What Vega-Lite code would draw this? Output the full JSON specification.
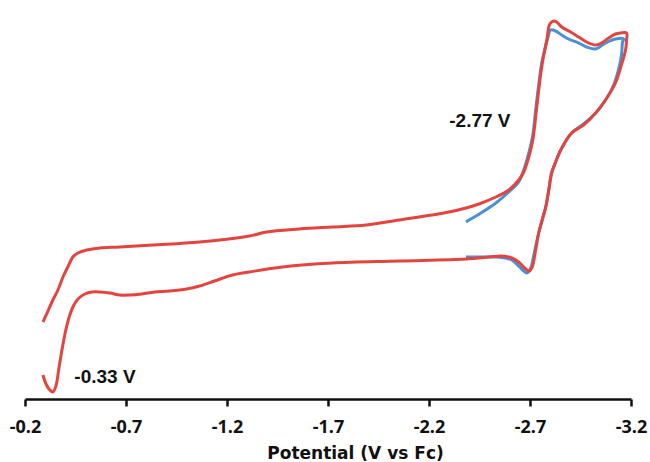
{
  "$schema": "https://vega.github.io/schema/vega-lite/v6.json",
  "width": 606,
  "height": 399,
  "autosize": {"type": "none"},
  "padding": {"left": 25, "top": 0, "right": 19, "bottom": 63},
  "background": "white",
  "config": {"view": {"stroke": null}},
  "datasets": {
    "red": [
      {"i":1,"E":-0.289,"I":26},{"i":2,"E":-0.304,"I":17},{"i":3,"E":-0.323,"I":11},{"i":4,"E":-0.338,"I":9},
      {"i":5,"E":-0.353,"I":15},{"i":6,"E":-0.368,"I":33},{"i":7,"E":-0.383,"I":51},{"i":8,"E":-0.402,"I":71},
      {"i":9,"E":-0.422,"I":86},{"i":10,"E":-0.442,"I":96},{"i":11,"E":-0.467,"I":103},{"i":12,"E":-0.496,"I":107},
      {"i":13,"E":-0.531,"I":109},{"i":14,"E":-0.570,"I":109},{"i":15,"E":-0.620,"I":108},{"i":16,"E":-0.669,"I":106},
      {"i":17,"E":-0.719,"I":106},{"i":18,"E":-0.778,"I":107},{"i":19,"E":-0.842,"I":109},{"i":20,"E":-0.916,"I":110},
      {"i":21,"E":-1.000,"I":112},{"i":22,"E":-1.064,"I":115},{"i":23,"E":-1.138,"I":120},{"i":24,"E":-1.227,"I":126},
      {"i":25,"E":-1.311,"I":129},{"i":26,"E":-1.474,"I":134},{"i":27,"E":-1.721,"I":138},{"i":28,"E":-2.052,"I":140},
      {"i":29,"E":-2.383,"I":142},{"i":30,"E":-2.496,"I":144},{"i":31,"E":-2.560,"I":145},{"i":32,"E":-2.610,"I":143},
      {"i":33,"E":-2.644,"I":139},{"i":34,"E":-2.674,"I":133},{"i":35,"E":-2.694,"I":130},{"i":36,"E":-2.709,"I":133},
      {"i":37,"E":-2.728,"I":151},{"i":38,"E":-2.743,"I":168},{"i":39,"E":-2.763,"I":183},{"i":40,"E":-2.778,"I":194},
      {"i":41,"E":-2.793,"I":211},{"i":42,"E":-2.807,"I":228},{"i":43,"E":-2.827,"I":239},{"i":44,"E":-2.852,"I":251},
      {"i":45,"E":-2.906,"I":268},{"i":46,"E":-2.965,"I":276},{"i":47,"E":-3.025,"I":288},{"i":48,"E":-3.074,"I":301},
      {"i":49,"E":-3.123,"I":318},{"i":50,"E":-3.148,"I":333},{"i":51,"E":-3.173,"I":351},{"i":52,"E":-3.178,"I":361},
      {"i":53,"E":-3.178,"I":368},{"i":54,"E":-3.148,"I":368},{"i":55,"E":-3.123,"I":367},{"i":56,"E":-3.089,"I":363},
      {"i":57,"E":-3.054,"I":358},{"i":58,"E":-3.025,"I":356},{"i":59,"E":-2.980,"I":359},{"i":60,"E":-2.941,"I":364},
      {"i":61,"E":-2.901,"I":369},{"i":62,"E":-2.857,"I":374},{"i":63,"E":-2.832,"I":379},{"i":64,"E":-2.817,"I":380},
      {"i":65,"E":-2.798,"I":377},{"i":66,"E":-2.783,"I":361},{"i":67,"E":-2.768,"I":346},{"i":68,"E":-2.758,"I":334},
      {"i":69,"E":-2.743,"I":311},{"i":70,"E":-2.728,"I":284},{"i":71,"E":-2.714,"I":261},{"i":72,"E":-2.694,"I":244},
      {"i":73,"E":-2.669,"I":229},{"i":74,"E":-2.644,"I":221},{"i":75,"E":-2.595,"I":211},{"i":76,"E":-2.531,"I":204},
      {"i":77,"E":-2.447,"I":197},{"i":78,"E":-2.383,"I":193},{"i":79,"E":-2.299,"I":189},{"i":80,"E":-2.215,"I":186},
      {"i":81,"E":-2.052,"I":181},{"i":82,"E":-1.889,"I":176},{"i":83,"E":-1.721,"I":174},{"i":84,"E":-1.558,"I":172},
      {"i":85,"E":-1.395,"I":169},{"i":86,"E":-1.311,"I":165},{"i":87,"E":-1.064,"I":159},{"i":88,"E":-0.832,"I":156},
      {"i":89,"E":-0.669,"I":154},{"i":90,"E":-0.570,"I":153},{"i":91,"E":-0.506,"I":151},{"i":92,"E":-0.462,"I":148},
      {"i":93,"E":-0.437,"I":144},{"i":94,"E":-0.412,"I":134},{"i":95,"E":-0.388,"I":124},{"i":96,"E":-0.363,"I":111},
      {"i":97,"E":-0.338,"I":101},{"i":98,"E":-0.314,"I":90},{"i":99,"E":-0.289,"I":79}
    ],
    "blue": [
      {"i":1,"E":-2.383,"I":144},{"i":2,"E":-2.447,"I":144},{"i":3,"E":-2.531,"I":144},{"i":4,"E":-2.580,"I":143},
      {"i":5,"E":-2.610,"I":141},{"i":6,"E":-2.644,"I":135},{"i":7,"E":-2.669,"I":130},{"i":8,"E":-2.684,"I":128},
      {"i":9,"E":-2.704,"I":133},{"i":10,"E":-2.719,"I":146},{"i":11,"E":-2.743,"I":168},{"i":12,"E":-2.763,"I":183},
      {"i":13,"E":-2.778,"I":194},{"i":14,"E":-2.793,"I":211},{"i":15,"E":-2.807,"I":228},{"i":16,"E":-2.827,"I":239},
      {"i":17,"E":-2.852,"I":251},{"i":18,"E":-2.906,"I":268},{"i":19,"E":-2.965,"I":277},{"i":20,"E":-3.025,"I":288},
      {"i":21,"E":-3.074,"I":301},{"i":22,"E":-3.114,"I":316},{"i":23,"E":-3.138,"I":331},{"i":24,"E":-3.153,"I":346},
      {"i":25,"E":-3.158,"I":359},{"i":26,"E":-3.163,"I":362},{"i":27,"E":-3.123,"I":362},{"i":28,"E":-3.074,"I":358},
      {"i":29,"E":-3.025,"I":352},{"i":30,"E":-2.980,"I":354},{"i":31,"E":-2.941,"I":358},{"i":32,"E":-2.891,"I":362},
      {"i":33,"E":-2.857,"I":366},{"i":34,"E":-2.827,"I":370},{"i":35,"E":-2.802,"I":371},{"i":36,"E":-2.788,"I":363},
      {"i":37,"E":-2.773,"I":351},{"i":38,"E":-2.758,"I":338},{"i":39,"E":-2.743,"I":316},{"i":40,"E":-2.728,"I":291},
      {"i":41,"E":-2.714,"I":266},{"i":42,"E":-2.694,"I":248},{"i":43,"E":-2.669,"I":231},{"i":44,"E":-2.644,"I":219},
      {"i":45,"E":-2.595,"I":209},{"i":46,"E":-2.531,"I":198},{"i":47,"E":-2.457,"I":188},{"i":48,"E":-2.407,"I":182},
      {"i":49,"E":-2.383,"I":179}
    ],
    "labels": [
      {"E":-2.452,"I":280.5,"text":"-2.77 V"},
      {"E":-0.596,"I":24.5,"text":"-0.33 V"}
    ]
  },
  "encoding": {
    "x": {
      "field": "E", "type": "quantitative",
      "scale": {"domain": [-0.2, -3.2], "nice": false, "zero": false},
      "axis": {
        "values": [-0.2, -0.7, -1.2, -1.7, -2.2, -2.7, -3.2],
        "labelExpr": "'-' + format(abs(datum.value), '.1f')",
        "title": "Potential (V vs Fc)",
        "grid": false,
        "domainColor": "#111111", "domainWidth": 2.5,
        "tickColor": "#111111", "tickWidth": 2.5, "tickSize": 7,
        "labelFont": "Open Sans", "labelFontWeight": "bold", "labelFontSize": 18,
        "labelColor": "#111111", "labelPadding": 12, "labelBaseline": "top",
        "labelOverlap": false, "labelFlush": false,
        "titleFont": "DejaVu Sans", "titleFontWeight": "bold", "titleFontSize": 17,
        "titleColor": "#111111", "titleX": 330, "titleY": 59,
        "titleAlign": "center", "titleBaseline": "alphabetic"
      }
    },
    "y": {
      "field": "I", "type": "quantitative",
      "scale": {"domain": [2, 401], "nice": false, "zero": false},
      "axis": null
    }
  },
  "layer": [
    {
      "data": {"name": "blue"},
      "mark": {"type": "line", "color": "#4a90d4", "strokeWidth": 3, "interpolate": "catmull-rom"},
      "encoding": {"order": {"field": "i", "type": "quantitative"}}
    },
    {
      "data": {"name": "red"},
      "mark": {"type": "line", "color": "#e2453f", "strokeWidth": 3, "interpolate": "catmull-rom"},
      "encoding": {"order": {"field": "i", "type": "quantitative"}}
    },
    {
      "data": {"name": "labels"},
      "mark": {"type": "text", "font": "Liberation Sans", "fontWeight": "bold", "fontSize": 19, "color": "#111111", "align": "center", "baseline": "middle"},
      "encoding": {"text": {"field": "text", "type": "nominal"}}
    }
  ]
}
